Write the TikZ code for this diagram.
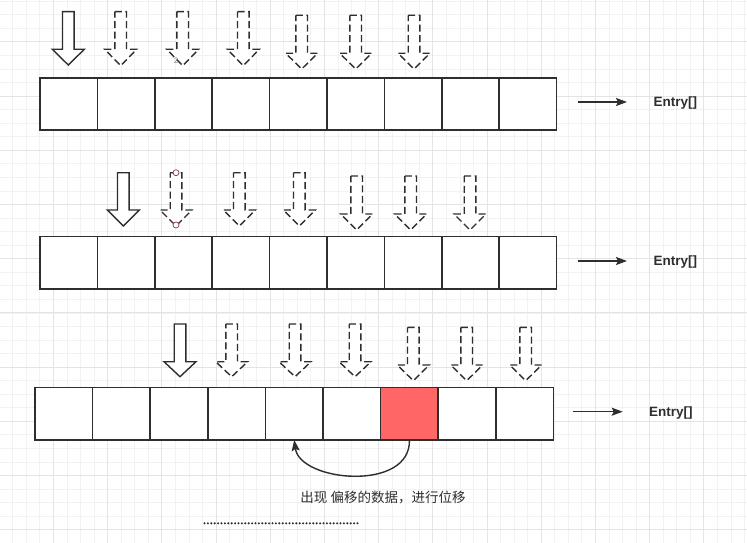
\documentclass[tikz,border=0pt]{standalone}
\usepackage{fontspec}
\setsansfont{Liberation Sans}
\newfontfamily\cjk{Noto Sans CJK SC}
\usetikzlibrary{arrows.meta}
\definecolor{ink}{HTML}{2E2E2E}
\definecolor{redfill}{HTML}{FF6666}
\definecolor{handle}{HTML}{8B3A3A}
\definecolor{gridminor}{HTML}{F2F2F2}
\definecolor{gridmajor}{HTML}{E4E4E4}
\newcommand\blockarrow[5]{%
  \draw[#1] ({#2-5.8},#3) -- ({#2+5.8},#3) -- ({#2+5.8},#4) -- ({#2+16},#4) -- (#2,#5) -- ({#2-16},#4) -- ({#2-5.8},#4) -- cycle;}
\tikzset{
  cell/.style={draw=ink, line width=1.6pt, fill=white, minimum width=57.4pt, minimum height=52pt, inner sep=0pt, outer sep=0pt},
  solidarrow/.style={draw=ink, line width=1.4pt, fill=white, line join=miter},
  dasharrow/.style={draw=ink, line width=1.4pt, fill=white, dash pattern=on 7pt off 3.5pt},
  conn/.style={draw=ink, line width=1.4pt, -{Stealth[length=11pt,width=8pt,inset=2pt]}},
  entry/.style={font=\sffamily\bfseries\fontsize{13.5}{14}\selectfont, text=ink, inner sep=0pt},
}
\begin{document}
\begin{tikzpicture}[x=1pt,y=-1pt]
\useasboundingbox (0,0) rectangle (747,543);
\fill[white] (0,0) rectangle (747,543);
% grid
\foreach \i in {0,...,55} { \draw[gridminor, line width=0.6pt] ({-0.9+\i*13.55},0) -- ({-0.9+\i*13.55},543); }
\foreach \i in {0,...,40} { \draw[gridminor, line width=0.6pt] (0,{1.15+\i*13.55}) -- (747,{1.15+\i*13.55}); }
\foreach \i in {0,...,13} { \draw[gridmajor, line width=0.8pt] ({-0.9+\i*54.2},0) -- ({-0.9+\i*54.2},543); }
\foreach \i in {1,...,10} { \draw[gridmajor, line width=0.8pt] (0,{-12.4+\i*54.2}) -- (747,{-12.4+\i*54.2}); }

% row 1 arrows
\blockarrow{solidarrow}{68.3}{11.7}{49.3}{65}
\foreach \cx in {120.7,182.7,243.3} { \blockarrow{dasharrow}{\cx}{11.7}{49.3}{65.7} }
\foreach \cx in {301.7,355.7,414} { \blockarrow{dasharrow}{\cx}{15.3}{53.3}{69} }
\node[text=gray, font=\sffamily\fontsize{8}{8}\selectfont, inner sep=0pt] (lbltwo) at (176,61) {2};

% row 2 arrows
\blockarrow{solidarrow}{123.3}{172.7}{210}{226}
\foreach \cx in {176,239.3,299.3} { \blockarrow{dasharrow}{\cx}{172.7}{210}{226} }
\foreach \cx in {356.7,410.7,470} { \blockarrow{dasharrow}{\cx}{176}{214}{230} }
\draw[handle, fill=white, line width=0.7pt] (176,172.7) circle (3);
\draw[handle, fill=white, line width=0.7pt] (176,225) circle (3);

% row 3 arrows
\blockarrow{solidarrow}{180}{324}{361.7}{376.7}
\foreach \cx in {231.7,295,355} { \blockarrow{dasharrow}{\cx}{324}{361.7}{376.7} }
\foreach \cx in {413.3,466.7,525.7} { \blockarrow{dasharrow}{\cx}{327.3}{365}{380.7} }

% boxes
\foreach \i in {0,...,8} { \node[cell] (a\i) at ({40+57.4*\i+28.7},104) {}; }
\foreach \i in {0,...,8} { \node[cell, minimum height=52.3pt] (b\i) at ({40+57.4*\i+28.7},262.8) {}; }
\foreach \i in {0,...,8} { \node[cell, minimum width=57.6pt, minimum height=52.3pt] (c\i) at ({35+57.6*\i+28.8},413.8) {}; }
\node[cell, minimum width=57.6pt, minimum height=52.3pt, fill=redfill] (c6) at ({35+57.6*6+28.8},413.8) {};

% Entry labels and arrows
\node[entry, anchor=west] (e1) at (653.5,103.5) {Entry[]};
\node[entry, anchor=west] (e2) at (653.5,262.5) {Entry[]};
\node[entry, anchor=west] (e3) at (649,413) {Entry[]};
\coordinate (s1) at (578.3,102);
\coordinate (t1) at (627,102);
\coordinate (s2) at (578.3,261);
\coordinate (t2) at (627,261);
\coordinate (s3) at (573.3,411.7);
\coordinate (t3) at (622.7,411.7);
\draw[conn] (s1) -- (t1);
\draw[conn] (s2) -- (t2);
\draw[conn] (s3) -- (t3);

% curved shift arrow
\draw[conn] (c6.south) .. controls (411,492) and (300,482) .. (c4.south);

\node[font=\cjk\fontsize{13.5}{13.5}\selectfont, text=ink, inner sep=0pt] (note) at (383,497.5) {出现 偏移的数据，进行位移};

\coordinate (d1) at (204.5,523.3);
\coordinate (d2) at (357.5,523.3);
\draw[ink, line width=2.3pt, line cap=round, dash pattern=on 0pt off 3.4pt] (d1) -- (d2);
\end{tikzpicture}
\end{document}
